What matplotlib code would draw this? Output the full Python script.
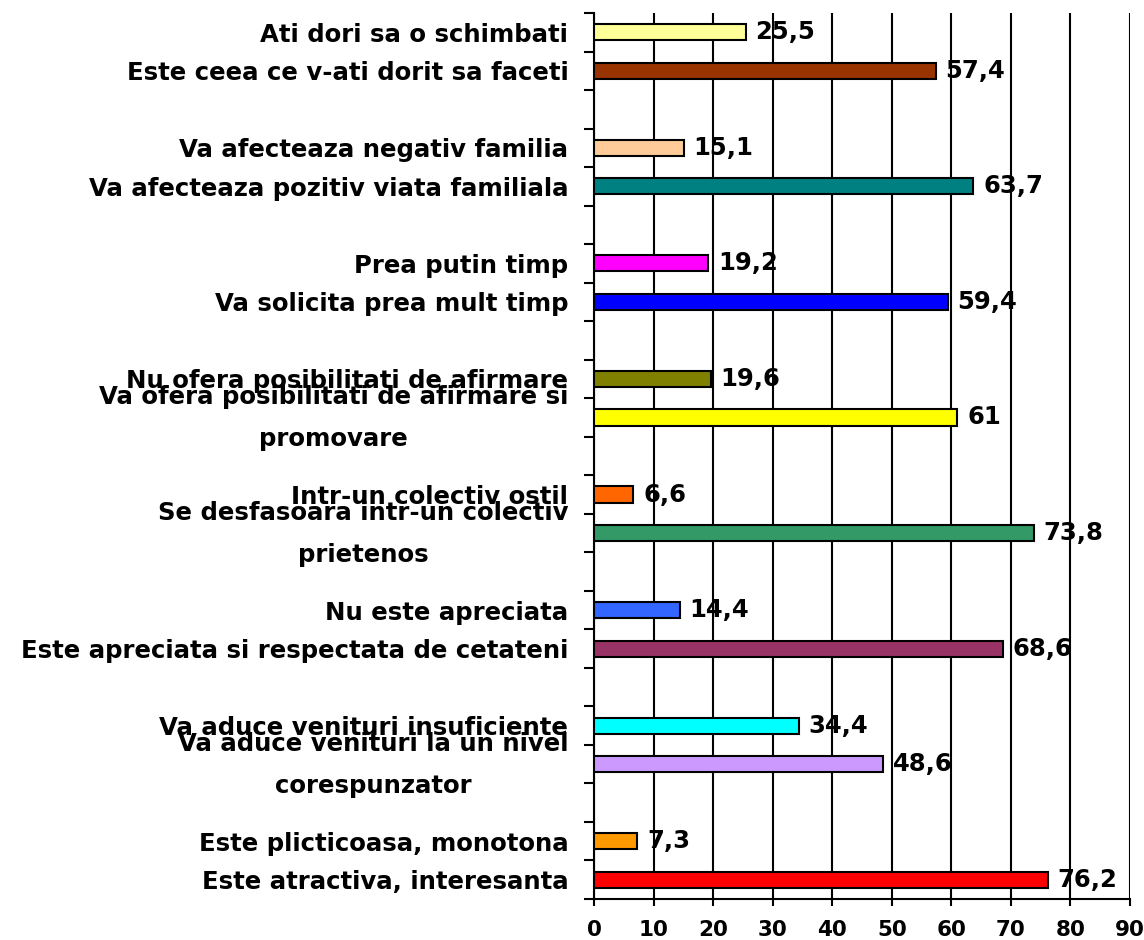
import matplotlib
matplotlib.use("Agg")
import matplotlib.pyplot as plt
from matplotlib.ticker import FixedLocator
from matplotlib.transforms import ScaledTranslation

labels = [
    "Ati dori sa o schimbati",
    "Este ceea ce v-ati dorit sa faceti",
    "Va afecteaza negativ familia",
    "Va afecteaza pozitiv viata familiala",
    "Prea putin timp",
    "Va solicita prea mult timp",
    "Nu ofera posibilitati de afirmare",
    "Va ofera posibilitati de afirmare si\npromovare",
    "Intr-un colectiv ostil",
    "Se desfasoara intr-un colectiv\nprietenos",
    "Nu este apreciata",
    "Este apreciata si respectata de cetateni",
    "Va aduce venituri insuficiente",
    "Va aduce venituri la un nivel\ncorespunzator",
    "Este plicticoasa, monotona",
    "Este atractiva, interesanta",
]
values = [25.5, 57.4, 15.1, 63.7, 19.2, 59.4, 19.6, 61, 6.6, 73.8,
          14.4, 68.6, 34.4, 48.6, 7.3, 76.2]
colors = ["#FFFF99", "#993300", "#FFCC99", "#008080", "#FF00FF", "#0000FF",
          "#808000", "#FFFF00", "#FF6600", "#339966", "#3366FF", "#993366",
          "#00FFFF", "#CC99FF", "#FF9900", "#FF0000"]
xticks = [0, 10, 20, 30, 40, 50, 60, 70, 80, 90]

plt.rcParams['font.family'] = ['DejaVu Sans']
fig = plt.figure(figsize=(11.44, 9.4), dpi=100)
ax = fig.add_axes([594/1144, 1 - 899/940, (1130-594)/1144, (899-13)/940])

# slot positions: pairs of bars separated by one empty slot, top to bottom
pos = [3 * (i // 2) + (i % 2) for i in range(len(values))]
nslots = pos[-1] + 1

ax.barh(pos, values, height=0.42, color=colors, edgecolor="black",
        linewidth=1.5, zorder=3)
for p, v in zip(pos, values):
    s = ("%g" % v).replace(".", ",")
    ax.annotate(s, (v, p), xytext=(7, 0), textcoords="offset points",
                va="center", ha="left", fontsize=17.5,
                fontweight="bold", zorder=4, annotation_clip=False)

ax.set_ylim(nslots - 0.5, -0.5)
ax.set_xlim(0, 90)
ax.tick_params(axis="x", which="major", length=5, width=1.5, direction="out",
               pad=10)
ax.set_xticks(xticks)
ax.set_xticklabels([str(t) for t in xticks], fontweight="bold", fontsize=15.5)
ax.grid(axis="x", color="black", linewidth=1.5, zorder=1)

ax.tick_params(axis="y", which="major", length=0, pad=18.5)
ax.tick_params(axis="y", which="minor", length=7, width=1.5, direction="out")
ax.set_yticks(pos)
ax.set_yticklabels(labels, fontweight="bold", fontsize=17.6,
                   multialignment="center", linespacing=1.95)
ax.yaxis.set_minor_locator(FixedLocator([y - 0.5 for y in range(nslots + 1)]))
shift = ScaledTranslation(0, 0.11, fig.dpi_scale_trans)
for lab in ax.get_yticklabels():
    if "\n" in lab.get_text():
        lab.set_transform(lab.get_transform() + shift)

for side in ["top", "right"]:
    ax.spines[side].set_visible(False)
for side in ["left", "bottom"]:
    ax.spines[side].set_linewidth(1.5)

fig.savefig("out.png", dpi=100)
